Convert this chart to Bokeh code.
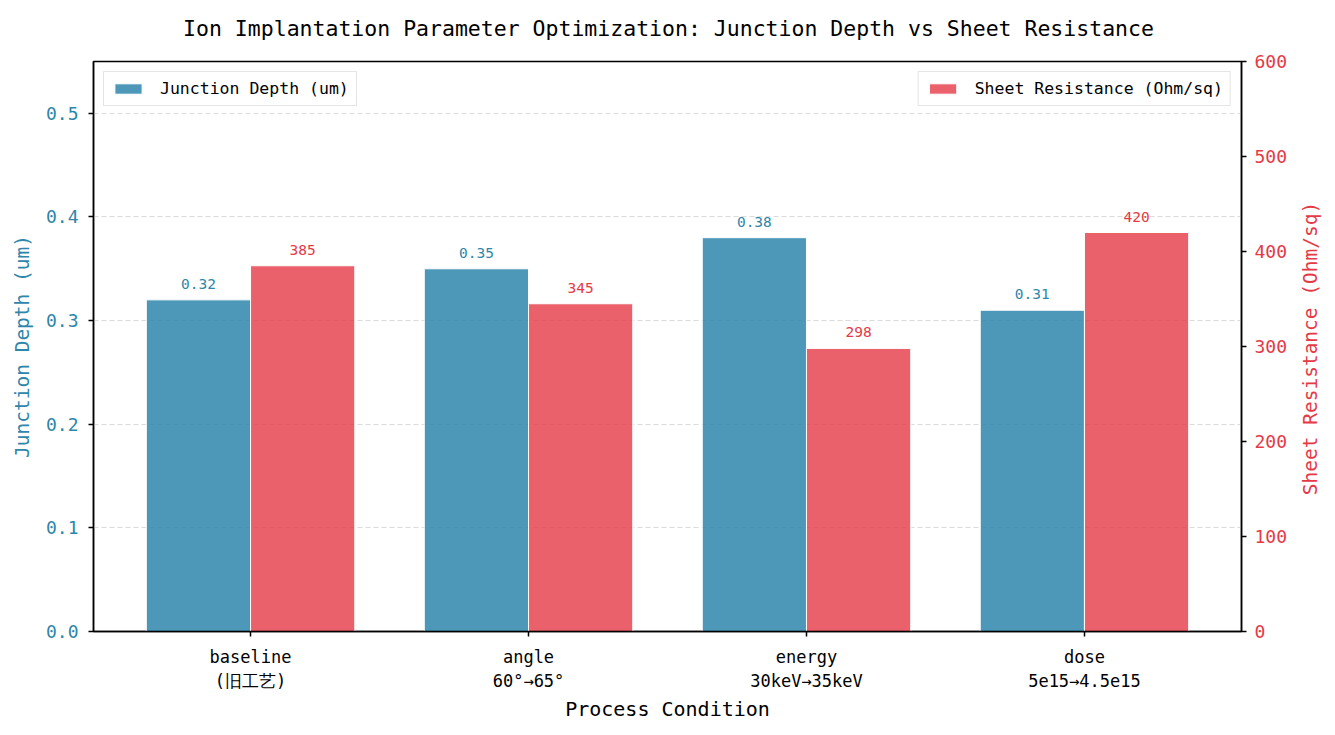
import math
from bokeh.plotting import figure
from bokeh.models import (Range1d, LinearAxis, FixedTicker, Legend, LegendItem,
                          ColumnDataSource, PrintfTickFormatter, Label)
from bokeh.core.properties import value
from bokeh.embed import file_html
from bokeh.resources import INLINE

# ---- data ----
title_text = "Ion Implantation Parameter Optimization: Junction Depth vs Sheet Resistance"
categories = ["baseline\n(旧工艺)", "angle\n60°→65°", "energy\n30keV→35keV", "dose\n5e15→4.5e15"]
junction_depth = [0.32, 0.35, 0.38, 0.31]
sheet_resistance = [385, 345, 298, 420]
depth_ticks = [0.0, 0.1, 0.2, 0.3, 0.4, 0.5]
res_ticks = [0, 100, 200, 300, 400, 500, 600]

BLUE = "#2E86AB"
RED = "#E63946"
FONT = "DejaVu Sans Mono"
bar_w = 0.375
x_lo, x_hi = -0.565, 3.565
res_lo, res_hi = 0, 600

idx = list(range(len(categories)))
src_d = ColumnDataSource(dict(x=[i - bar_w / 2 for i in idx], top=junction_depth,
                              lab=[f"{v:.2f}" for v in junction_depth]))
src_r = ColumnDataSource(dict(x=[i + bar_w / 2 for i in idx], top=sheet_resistance,
                              lab=[f"{v:d}" for v in sheet_resistance]))

p = figure(width=1335, height=735, output_backend="svg", toolbar_location=None,
           x_range=Range1d(x_lo, x_hi), y_range=Range1d(0, 0.55),
           min_border_left=93, min_border_right=94, min_border_top=61, min_border_bottom=104)
p.extra_y_ranges = {"res": Range1d(res_lo, res_hi)}

p.outline_line_color = "black"
p.outline_line_width = 1.5
p.background_fill_color = "white"
p.border_fill_color = "white"

# title (as a label in the top border)
title_label = Label(x=668, y=28, x_units="canvas", y_units="canvas", text=title_text,
                    text_align="center", text_baseline="middle", text_color="black",
                    text_font=FONT, text_font_size="21.5px")
p.add_layout(title_label, "above")

# grids
p.xgrid.grid_line_color = None
p.ygrid.grid_line_color = "#cccccc"
p.ygrid.grid_line_alpha = 0.7
p.ygrid.grid_line_dash = "5 3"
p.ygrid.grid_line_width = 1

# bars
rd = p.vbar(x="x", top="top", width=bar_w, source=src_d, fill_color=BLUE, fill_alpha=0.85,
            line_color="white", line_width=1)
rr = p.vbar(x="x", top="top", width=bar_w, source=src_r, fill_color=RED, fill_alpha=0.8,
            line_color="white", line_width=1, y_range_name="res")

# value labels
p.text(x="x", y="top", text="lab", source=src_d, text_align="center", text_baseline="bottom",
       y_offset=-11, text_color=BLUE, text_font=value(FONT), text_font_size="14.5px")
p.text(x="x", y="top", text="lab", source=src_r, text_align="center", text_baseline="bottom",
       y_offset=-11, text_color=RED, text_font=value(FONT), text_font_size="14.5px",
       y_range_name="res")

# x axis
xa = p.xaxis[0]
xa.ticker = FixedTicker(ticks=idx)
xa.major_label_overrides = {i: c for i, c in zip(idx, categories)}
xa.axis_label = "Process Condition"
xa.axis_label_text_color = "black"
xa.axis_label_text_font = FONT
xa.axis_label_text_font_size = "20px"
xa.axis_label_text_font_style = "normal"
xa.axis_label_standoff = 3
xa.major_label_text_font = FONT
xa.major_label_text_font_size = "17px"
xa.major_label_text_color = "black"
xa.major_label_standoff = 10
xa.axis_line_width = 1.5
xa.major_tick_in = 0
xa.major_tick_out = 5
xa.major_tick_line_width = 1.5
xa.minor_tick_line_color = None

# left axis
ya = p.yaxis[0]
ya.ticker = FixedTicker(ticks=depth_ticks)
ya.formatter = PrintfTickFormatter(format="%.1f")
ya.axis_label = "Junction Depth (um)"
ya.axis_label_text_color = BLUE
ya.axis_label_text_font = FONT
ya.axis_label_text_font_size = "19.5px"
ya.axis_label_text_font_style = "normal"
ya.axis_label_standoff = 9
ya.major_label_text_color = BLUE
ya.major_label_text_font = FONT
ya.major_label_text_font_size = "18px"
ya.major_label_standoff = 10
ya.axis_line_width = 1.5
ya.major_tick_in = 0
ya.major_tick_out = 5
ya.major_tick_line_width = 1.5
ya.minor_tick_line_color = None

# right axis (label drawn separately so it reads bottom-to-top)
ra = LinearAxis(y_range_name="res", ticker=FixedTicker(ticks=res_ticks))
ra.major_label_text_color = RED
ra.major_label_text_font = FONT
ra.major_label_text_font_size = "18px"
ra.major_label_standoff = 8
ra.axis_line_width = 1.5
ra.major_tick_in = 0
ra.major_tick_out = 5
ra.major_tick_line_width = 1.5
ra.minor_tick_line_color = None
p.add_layout(ra, "right")

right_label = Label(x=1310, y=348, x_units="canvas", y_units="canvas",
                    text="Sheet Resistance (Ohm/sq)", angle=math.pi / 2,
                    text_align="center", text_baseline="middle", text_color=RED,
                    text_font=FONT, text_font_size="19.5px")
p.add_layout(right_label, "right")

# legends
def make_legend(label, rend, loc):
    lg = Legend(items=[LegendItem(label=label, renderers=[rend])], location=loc)
    lg.label_text_font = FONT
    lg.label_text_font_size = "16.5px"
    lg.label_text_color = "black"
    lg.label_standoff = 15
    lg.glyph_width = 34
    lg.glyph_height = 13
    lg.padding = 7
    lg.margin = 10
    lg.border_line_color = "#cccccc"
    lg.border_line_width = 1.5
    lg.background_fill_alpha = 0.85
    return lg

p.add_layout(make_legend("Junction Depth (um)", rd, "top_left"), "center")
p.add_layout(make_legend("Sheet Resistance (Ohm/sq)", rr, "top_right"), "center")

open("out.html", "w").write(file_html(p, INLINE))
